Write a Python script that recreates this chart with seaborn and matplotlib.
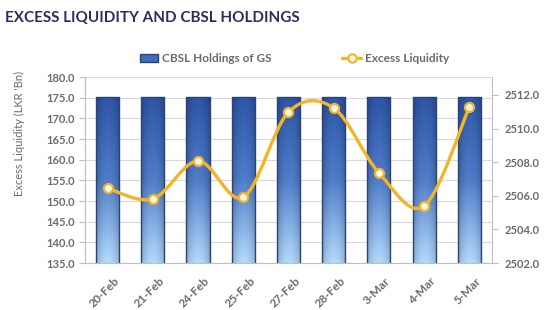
import numpy as np
import pandas as pd
import matplotlib.pyplot as plt
import seaborn as sns
from matplotlib.path import Path
from matplotlib.patches import PathPatch, Patch
from matplotlib.lines import Line2D
from matplotlib.transforms import blended_transform_factory, ScaledTranslation

# values
dates = ["20-Feb", "21-Feb", "24-Feb", "25-Feb", "27-Feb", "28-Feb", "3-Mar", "4-Mar", "5-Mar"]
excess_liquidity = [153.1, 150.5, 159.7, 150.9, 171.5, 172.5, 156.8, 148.8, 172.7]
cbsl_holdings = [2511.9, 2511.9, 2511.9, 2511.9, 2511.9, 2511.9, 2511.9, 2511.9, 2511.9]

left_ticks = [135, 140, 145, 150, 155, 160, 165, 170, 175, 180]
right_ticks = [2502, 2504, 2506, 2508, 2510, 2512]

GOLD = "#f2b52a"
GREY_TXT = "#6b6b6b"
SPINE = "#bfbfbf"

sns.set_style("white")
plt.rcParams["font.family"] = ["Lato", "DejaVu Sans"]

df = pd.DataFrame({"date": dates, "cbsl": cbsl_holdings, "excess": excess_liquidity})

fig = plt.figure(figsize=(5.5, 3.1), dpi=100)
ax = fig.add_axes([0.1545, 0.1516, 0.74, 0.6])
ax2 = ax.twinx()
ax.set_zorder(2)
ax2.set_zorder(1)
ax.patch.set_visible(False)

# bars (right axis)
sns.barplot(data=df, x="date", y="cbsl", ax=ax2, color="#3f6db7", width=0.51,
            saturation=1, edgecolor="#2a4474", linewidth=1.0)
ax2.set_ylim(2502, 2513.07)
ax2.set_yticks(right_ticks)
ax2.yaxis.set_major_formatter(plt.FormatStrFormatter("%.1f"))
ax2.set_ylabel("")
ax2.set_xlabel("")

# gradient fill inside each bar
h, w = 120, 40
t = np.linspace(0, 1, h)[:, None]
top = np.array([0.17, 0.32, 0.63])
mid = np.array([0.30, 0.47, 0.76])
bot = np.array([0.67, 0.82, 0.95])
tt = t[..., None]
col = np.where(tt > 0.5, mid + (top - mid) * ((tt - 0.5) / 0.5), bot + (mid - bot) * (tt / 0.5))
col = np.repeat(col, w, axis=1)
s = np.linspace(-1, 1, w)[None, :, None]
shade = 1.0 - 0.18 * np.abs(s) ** 2.5 + 0.05 * (1 - np.abs(s))
grad = np.clip(col * shade, 0, 1)
ylo = ax2.get_ylim()[0]
for bar in list(ax2.patches):
    x0 = bar.get_x()
    x1 = x0 + bar.get_width()
    y1 = bar.get_height()
    im = ax2.imshow(grad, origin="lower", extent=[x0, x1, ylo, y1], aspect="auto", zorder=2)
    im.set_clip_path(bar)
    bar.set_facecolor("none")
    bar.set_zorder(3)

# grid lines follow the left axis ticks but sit behind the bars
for v in left_ticks:
    ax2.add_line(Line2D([0, 1], [v, v], color="#d9d9d9", lw=0.8, zorder=0.5,
                        transform=blended_transform_factory(ax2.transAxes, ax.transData)))

# smoothed line (left axis), Excel-style Bezier smoothing through the points
xs = np.arange(len(dates), dtype=float)
pts = np.column_stack([xs, excess_liquidity])
verts = [tuple(pts[0])]
codes = [Path.MOVETO]
n = len(pts)
for i in range(n - 1):
    p0 = pts[max(i - 1, 0)]
    p1 = pts[i]
    p2 = pts[i + 1]
    p3 = pts[min(i + 2, n - 1)]
    verts += [tuple(p1 + (p2 - p0) / 6), tuple(p2 - (p3 - p1) / 6), tuple(p2)]
    codes += [Path.CURVE4] * 3
ax.add_patch(PathPatch(Path(verts, codes), facecolor="none", edgecolor=GOLD, lw=2.4, zorder=3))
ax.plot(xs, excess_liquidity, "o", ms=6.5, mfc="#fffbea", mec=GOLD, mew=1.6, zorder=4)

ax.set_ylim(135, 180)
ax.set_yticks(left_ticks)
ax.yaxis.set_major_formatter(plt.FormatStrFormatter("%.1f"))
ax.set_xlim(-0.5, len(dates) - 0.5)
ax.set_xticks(xs)
ax.set_xticklabels(dates, rotation=45, ha="right", rotation_mode="anchor")
ax.set_xticks(np.arange(-0.5, len(dates), 1), minor=True)
ax.tick_params(axis="x", which="major", length=0, pad=9)
ax.tick_params(axis="x", which="minor", length=4, color=SPINE, width=0.8)
ax.tick_params(axis="y", length=4, color=SPINE, width=0.8, pad=3)
ax2.tick_params(axis="y", length=4, color=SPINE, width=0.8, pad=5)

shift = ScaledTranslation(6 / 100, 0, fig.dpi_scale_trans)
for lab in ax.get_xticklabels():
    lab.set_transform(lab.get_transform() + shift)

for a in (ax, ax2):
    for lab in a.get_xticklabels() + a.get_yticklabels():
        lab.set_color(GREY_TXT)
        lab.set_fontsize(8)
        lab.set_fontweight("bold")
    for sp in a.spines.values():
        sp.set_color(SPINE)
        sp.set_linewidth(0.8)
for lab in ax.get_xticklabels():
    lab.set_fontsize(8.5)
ax.spines["top"].set_visible(False)
ax.spines["right"].set_visible(False)
ax2.spines["top"].set_visible(False)
ax2.spines["left"].set_visible(False)
ax2.spines["bottom"].set_visible(False)

fig.text(0.036, 0.571, "Excess Liquidity (LKR 'Bn)", rotation=90, ha="center", va="center",
         fontsize=8, color=GREY_TXT)
fig.text(0.009, 0.942, "EXCESS LIQUIDITY AND CBSL HOLDINGS", ha="left", va="center",
         fontsize=11, fontweight="bold", color="#2e2b5f")

handles = [Patch(facecolor="#3f6db7", edgecolor="#2a4474"),
           Line2D([], [], color=GOLD, lw=2.4, marker="o", ms=6, mfc="#fffbea", mec=GOLD, mew=1.5)]
leg = fig.legend(handles, ["CBSL Holdings of GS", "Excess Liquidity"], loc="center",
                 bbox_to_anchor=(0.535, 0.81), ncol=2, frameon=False, fontsize=8.5,
                 columnspacing=6.0, handlelength=1.6, handletextpad=0.3)
for txt in leg.get_texts():
    txt.set_color(GREY_TXT)
    txt.set_fontweight("bold")

fig.savefig("out.png", dpi=100, facecolor="white")
